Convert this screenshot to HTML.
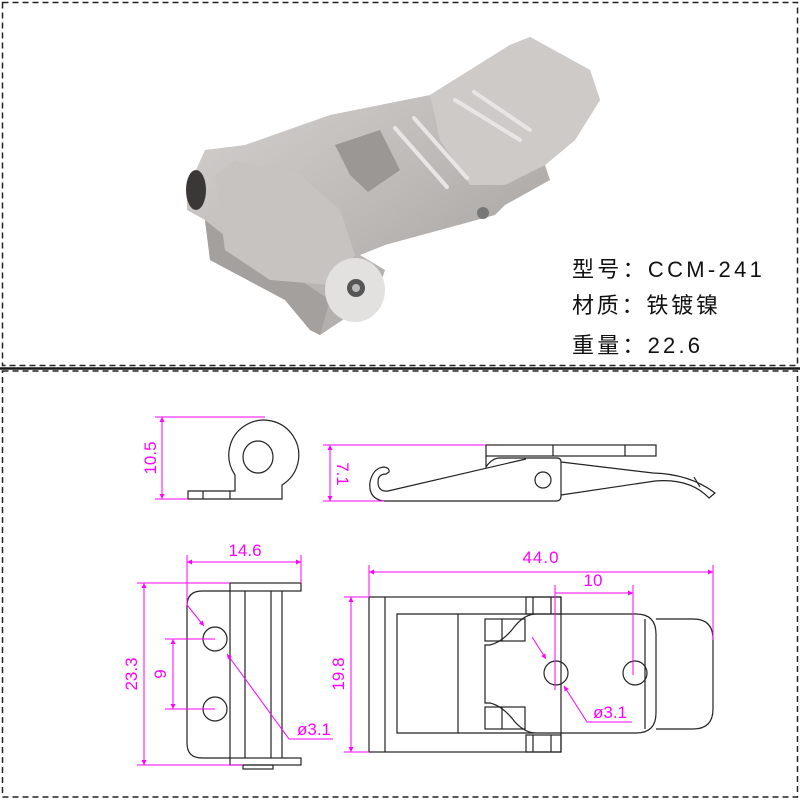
<!DOCTYPE html>
<html><head><meta charset="utf-8"><style>
html,body{margin:0;padding:0;background:#fff;}
svg{display:block}
</style></head><body>
<svg width="800" height="800" viewBox="0 0 800 800" xmlns="http://www.w3.org/2000/svg">
<defs>
<linearGradient id="metal" x1="0" y1="0" x2="1" y2="1">
<stop offset="0" stop-color="#d8d6d4"/><stop offset="0.5" stop-color="#bdbab7"/><stop offset="1" stop-color="#9a9794"/>
</linearGradient>
<marker id="ar" viewBox="0 0 10 10" refX="10" refY="5" markerWidth="11" markerHeight="5" orient="auto-start-reverse" markerUnits="userSpaceOnUse"><path d="M0,0 L10,5 L0,10 z" fill="#ff00ff"/></marker>
</defs>
<!-- borders -->
<rect x="2.5" y="2.5" width="795" height="363" fill="none" stroke="#222" stroke-width="1.5" stroke-dasharray="6,4"/>
<rect x="2.5" y="371" width="795" height="426" fill="none" stroke="#222" stroke-width="1.5" stroke-dasharray="6,4"/>
<line x1="0" y1="368.5" x2="800" y2="368.5" stroke="#1a1a1a" stroke-width="2.5"/>

<!-- photo approximation -->
<g stroke="none">
<polygon points="187,190 205,150 245,145 330,115 380,105 430,95 510,45 530,37 590,70 600,100 575,140 545,165 550,180 505,205 495,215 385,245 360,255 385,270 375,300 350,315 320,335 310,330 285,300 210,260 205,220 187,210" fill="url(#metal)"/>
<polygon points="430,95 510,45 530,37 590,70 600,100 575,140 545,165 505,185 470,185 440,140" fill="#cdcac8"/>
<polygon points="205,220 210,260 285,300 310,330 320,335 330,300 300,280 230,240" fill="#a3a09d"/>
<polygon points="335,145 380,130 400,170 368,192 350,175" fill="#9a9794"/>
<polygon points="215,175 235,160 300,175 340,210 355,255 330,285 270,280 225,250" fill="#c6c3c0"/>
<ellipse cx="355" cy="290" rx="30" ry="32" fill="#e3e1df"/>
<circle cx="356" cy="288" r="9" fill="#555"/>
<circle cx="356" cy="288" r="4" fill="#bbb"/>
<ellipse cx="196" cy="190" rx="10" ry="20" fill="#3a3836"/>
<circle cx="483" cy="213" r="6" fill="#777"/>
<g stroke="#e8e6e4" stroke-width="4" stroke-linecap="round">
<line x1="395" y1="128" x2="447" y2="187"/><line x1="414" y1="118" x2="467" y2="178"/>
<line x1="455" y1="100" x2="520" y2="140"/><line x1="474" y1="92" x2="530" y2="130"/>
</g>
</g>

<g font-family="'Liberation Sans','Noto Sans CJK SC',sans-serif" font-size="22" fill="#111">
<text x="572" y="277" letter-spacing="3.3">型号：CCM-241</text>
<text x="572" y="313" letter-spacing="2.8">材质：铁镀镍</text>
<text x="572" y="353" letter-spacing="3.2">重量：22.6</text>
</g>

<!-- ===== drawings ===== -->
<g fill="none" stroke="#222" stroke-width="1.2">
<!-- side view left -->
<path d="M282,485 A35,35 0 1 0 235,475 L235,491 L188,491 L188,499 L282,499 Z"/>
<line x1="203" y1="491" x2="203" y2="499"/><line x1="230" y1="491" x2="230" y2="499"/>
<ellipse cx="258" cy="457" rx="15" ry="16"/>
<!-- side view right -->
<rect x="486" y="445" width="170" height="11"/>
<line x1="553" y1="445" x2="553" y2="456"/><line x1="625" y1="445" x2="625" y2="456"/>
<path d="M486,456 L486,467 Q492,458 500,458 L557,458 Q561,458 561,462 L561,496 Q561,501 556,501 L384,501 Q368,499 370,482 Q373,468 384,467 Q390,468 389,472 L386,474 Q378,474 378,482 Q378,492 388,491 L526,459"/>
<circle cx="543" cy="480" r="8"/>
<path d="M561,462 L653,473 Q690,474 715,493 L709,498 Q690,478 655,481 L561,495"/>
<line x1="694" y1="477" x2="700" y2="487"/>

<!-- plan left -->
<rect x="230" y="583" width="71" height="8"/>
<rect x="230" y="758" width="71" height="7"/>
<rect x="243" y="765" width="30" height="4"/>
<path d="M230,591 L202,591 Q187,591 187,606 L187,743 Q187,758 202,758 L230,758"/>
<line x1="230" y1="591" x2="230" y2="758"/>
<line x1="245" y1="591" x2="245" y2="758"/><line x1="271" y1="591" x2="271" y2="758"/><line x1="282" y1="591" x2="282" y2="758"/>
<ellipse cx="215" cy="639" rx="12" ry="12"/><ellipse cx="215" cy="709" rx="12" ry="12"/>

<!-- plan right -->
<rect x="369" y="597" width="192" height="155"/>
<line x1="385" y1="597" x2="385" y2="752"/>
<rect x="526" y="597" width="35" height="17"/><rect x="526" y="735" width="35" height="17"/>
<line x1="533" y1="597" x2="533" y2="614"/><line x1="551" y1="597" x2="551" y2="614"/>
<line x1="533" y1="735" x2="533" y2="752"/><line x1="551" y1="735" x2="551" y2="752"/>
<path d="M535,614 L397,614 L397,733 L535,733"/>
<line x1="458" y1="614" x2="458" y2="733"/>
<rect x="485" y="619" width="40" height="22"/><rect x="485" y="707" width="40" height="22"/>
<line x1="502" y1="619" x2="502" y2="641"/><line x1="502" y1="707" x2="502" y2="729"/>
<path d="M536,614 L636,614 Q656,614 656,634 L656,713 Q656,733 636,733 L536,733 Q525,733 515,722 Q503,706 490,703 L485,703 L485,645 L490,645 Q503,642 515,626 Q525,614 536,614 Z"/>
<path d="M656,619 L693,619 Q713,619 713,639 L713,709 Q713,729 693,729 L656,729"/>
<line x1="645" y1="619" x2="645" y2="729"/>
<ellipse cx="556" cy="673" rx="12" ry="12"/><ellipse cx="635" cy="673" rx="12" ry="12"/>
</g>

<!-- dimensions -->
<g stroke="#ff00ff" stroke-width="1" fill="none">
<line x1="155" y1="417" x2="265" y2="417"/><line x1="155" y1="499" x2="188" y2="499"/>
<line x1="162" y1="417" x2="162" y2="499" marker-start="url(#ar)" marker-end="url(#ar)"/>
<line x1="323" y1="445" x2="486" y2="445"/><line x1="323" y1="501" x2="384" y2="501"/>
<line x1="330" y1="445" x2="330" y2="501" marker-start="url(#ar)" marker-end="url(#ar)"/>

<line x1="187" y1="555" x2="187" y2="605"/><line x1="301" y1="555" x2="301" y2="583"/>
<line x1="187" y1="562" x2="301" y2="562" marker-start="url(#ar)" marker-end="url(#ar)"/>
<line x1="137" y1="583" x2="230" y2="583"/><line x1="137" y1="765" x2="243" y2="765"/>
<line x1="144" y1="583" x2="144" y2="765" marker-start="url(#ar)" marker-end="url(#ar)"/>
<line x1="165" y1="639" x2="215" y2="639"/><line x1="165" y1="709" x2="215" y2="709"/>
<line x1="173" y1="639" x2="173" y2="709" marker-start="url(#ar)" marker-end="url(#ar)"/>
<line x1="187" y1="605" x2="204" y2="626" marker-end="url(#ar)"/>
<polyline points="227,654 289,739 333,739" marker-start="url(#ar)"/>

<line x1="369" y1="565" x2="369" y2="597"/><line x1="713" y1="565" x2="713" y2="640"/>
<line x1="369" y1="572" x2="713" y2="572" marker-start="url(#ar)" marker-end="url(#ar)"/>
<line x1="555" y1="585" x2="555" y2="690"/><line x1="633" y1="585" x2="633" y2="675"/>
<line x1="555" y1="593" x2="633" y2="593" marker-end="url(#ar)"/>
<line x1="344" y1="597" x2="369" y2="597"/><line x1="344" y1="752" x2="369" y2="752"/>
<line x1="351" y1="597" x2="351" y2="752" marker-start="url(#ar)" marker-end="url(#ar)"/>
<line x1="532" y1="637" x2="546" y2="659" marker-end="url(#ar)"/>
<polyline points="564,686 587,722 632,722" marker-start="url(#ar)"/>
</g>
<g font-family="'Liberation Sans',sans-serif" font-size="17" fill="#ff00ff">
<text x="0" y="0" text-anchor="middle" transform="translate(156,458) rotate(-90)">10.5</text>
<text x="0" y="0" text-anchor="middle" transform="translate(337,474) rotate(90)">7.1</text>
<text x="245" y="556" text-anchor="middle">14.6</text>
<text x="0" y="0" text-anchor="middle" transform="translate(137,674) rotate(-90)">23.3</text>
<text x="0" y="0" text-anchor="middle" transform="translate(166,674) rotate(-90)">9</text>
<text x="314" y="735" text-anchor="middle">ø3.1</text>
<text x="541" y="563" text-anchor="middle" letter-spacing="1">44.0</text>
<text x="593" y="586" text-anchor="middle">10</text>
<text x="0" y="0" text-anchor="middle" transform="translate(344,674) rotate(-90)">19.8</text>
<text x="610" y="718" text-anchor="middle">ø3.1</text>
</g>
</svg>
</body></html>
